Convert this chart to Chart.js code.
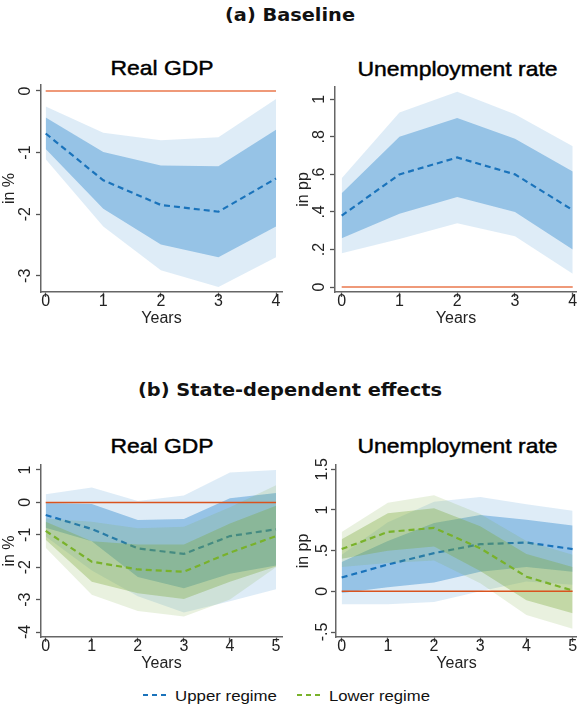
<!DOCTYPE html>
<html><head><meta charset="utf-8">
<script src="https://cdn.jsdelivr.net/npm/chart.js@4"></script>
<style>
body{margin:0;width:577px;height:712px;background:#fff;position:relative;overflow:hidden;font-family:"Liberation Sans",Arial,sans-serif;}
canvas{position:absolute;}
svg{position:absolute;left:0;top:0;}
</style></head><body>
<svg width="577" height="712">
  <text x="290" y="21" text-anchor="middle" font-family="DejaVu Sans" font-weight="bold" font-size="17.5" textLength="130" lengthAdjust="spacingAndGlyphs" fill="#111">(a) Baseline</text>
  <text x="290" y="396" text-anchor="middle" font-family="DejaVu Sans" font-weight="bold" font-size="17.5" textLength="304" lengthAdjust="spacingAndGlyphs" fill="#111">(b) State-dependent effects</text>
  <g font-family="Liberation Sans" font-size="21" fill="#000" stroke="#000" stroke-width="0.45" text-anchor="middle" lengthAdjust="spacingAndGlyphs">
    <text x="162" y="75" textLength="103" lengthAdjust="spacingAndGlyphs">Real GDP</text>
    <text x="457.5" y="76" textLength="200" lengthAdjust="spacingAndGlyphs">Unemployment rate</text>
    <text x="162" y="453" textLength="103" lengthAdjust="spacingAndGlyphs">Real GDP</text>
    <text x="457.5" y="453" textLength="200" lengthAdjust="spacingAndGlyphs">Unemployment rate</text>
  </g>
  <line x1="143" y1="695" x2="168" y2="695" stroke="#1a73bb" stroke-width="2" stroke-dasharray="5,4"/>
  <text x="175" y="701" font-family="Liberation Sans" font-size="14" textLength="102" lengthAdjust="spacingAndGlyphs" fill="#111">Upper regime</text>
  <line x1="297" y1="695" x2="322" y2="695" stroke="#79b22b" stroke-width="2" stroke-dasharray="5,4"/>
  <text x="329" y="701" font-family="Liberation Sans" font-size="14" textLength="101" lengthAdjust="spacingAndGlyphs" fill="#111">Lower regime</text>
</svg>
<canvas id="tl" width="290" height="262" style="left:0;top:70px;width:290px;height:262px"></canvas>
<canvas id="tr" width="287" height="260" style="left:290px;top:72px;width:287px;height:260px"></canvas>
<canvas id="bl" width="290" height="227" style="left:0;top:450px;width:290px;height:227px"></canvas>
<canvas id="br" width="287" height="227" style="left:290px;top:450px;width:287px;height:227px"></canvas>
<script>
// ---------- data ----------
const yearsA = [0, 1, 2, 3, 4];
const yearsB = [0, 1, 2, 3, 4, 5];

// (a) Baseline - Real GDP (in %)
const gdpA_mean   = [-0.69, -1.45, -1.85, -1.96, -1.42];
const gdpA_in_hi  = [-0.43, -0.99, -1.21, -1.22, -0.63];
const gdpA_in_lo  = [-0.94, -1.91, -2.49, -2.70, -2.20];
const gdpA_out_hi = [-0.25, -0.68, -0.80, -0.75, -0.13];
const gdpA_out_lo = [-1.11, -2.20, -2.91, -3.18, -2.70];

// (a) Baseline - Unemployment rate (in pp)
const unA_mean   = [0.38, 0.60, 0.69, 0.60, 0.41];
const unA_in_hi  = [0.50, 0.80, 0.90, 0.79, 0.615];
const unA_in_lo  = [0.26, 0.39, 0.48, 0.40, 0.20];
const unA_out_hi = [0.58, 0.93, 1.04, 0.92, 0.75];
const unA_out_lo = [0.18, 0.256, 0.34, 0.27, 0.07];

// (b) State-dependent - Real GDP, upper regime
const gdpU_mean   = [-0.39, -0.82, -1.42, -1.59, -1.04, -0.83];
const gdpU_in_hi  = [-0.02, -0.05, -0.54, -0.51, 0.13, 0.29];
const gdpU_in_lo  = [-0.78, -1.20, -2.30, -2.65, -2.20, -1.95];
const gdpU_out_hi = [0.25, 0.46, 0.04, 0.21, 0.92, 1.00];
const gdpU_out_lo = [-1.05, -2.10, -2.90, -3.40, -3.05, -2.68];
// (b) Real GDP, lower regime
const gdpL_mean   = [-0.88, -1.83, -2.07, -2.14, -1.55, -1.04];
const gdpL_in_hi  = [-0.60, -1.20, -1.30, -1.30, -0.65, -0.10];
const gdpL_in_lo  = [-1.15, -2.45, -2.80, -2.98, -2.45, -1.98];
const gdpL_out_hi = [-0.50, -0.60, -0.80, -0.75, -0.15, 0.53];
const gdpL_out_lo = [-1.40, -2.85, -3.35, -3.52, -3.00, -2.00];

// (b) Unemployment rate, upper regime
const unU_mean   = [0.17, 0.33, 0.47, 0.58, 0.60, 0.52];
const unU_in_hi  = [0.36, 0.62, 0.84, 0.94, 0.88, 0.81];
const unU_in_lo  = [-0.02, 0.05, 0.11, 0.24, 0.30, 0.24];
const unU_out_hi = [0.45, 0.85, 1.10, 1.16, 1.07, 0.99];
const unU_out_lo = [-0.16, -0.16, -0.13, 0.00, 0.12, 0.08];
// (b) Unemployment rate, lower regime
const unL_mean   = [0.52, 0.73, 0.78, 0.53, 0.18, 0.01];
const unL_in_hi  = [0.64, 0.96, 1.02, 0.80, 0.46, 0.30];
const unL_in_lo  = [0.40, 0.50, 0.55, 0.25, -0.11, -0.27];
const unL_out_hi = [0.73, 1.09, 1.18, 0.95, 0.62, 0.45];
const unL_out_lo = [0.30, 0.35, 0.38, 0.10, -0.29, -0.46];

// tick values
const ticksGdpA = [-3, -2, -1, 0];
const ticksUnA  = [0, 0.2, 0.4, 0.6, 0.8, 1];
const ticksGdpB = [-4, -3, -2, -1, 0, 1];
const ticksUnB  = [-0.5, 0, 0.5, 1, 1.5];

// ---------- styling helpers ----------
Chart.defaults.font.family = "'Liberation Sans', Arial, sans-serif";
const BLUE_OUT = 'rgba(66,146,210,0.175)';
const BLUE_IN  = 'rgba(66,146,210,0.46)';
const GREEN_OUT = 'rgba(122,170,60,0.165)';
const GREEN_IN  = 'rgba(122,170,60,0.35)';
const BLUE_LINE = '#1a73bb';
const GREEN_LINE = '#79b22b';

const fmt = v => {
  const s = String(Math.round(v * 100) / 100);
  return s.replace(/^0\./, '.').replace(/^-0\./, '-.');
};
const pts = (xs, ys) => xs.map((x, i) => ({x: x, y: ys[i]}));
function band(xs, hi, lo, color, order) {
  return [
    {data: pts(xs, hi), fill: '+1', backgroundColor: color, borderColor: 'transparent', borderWidth: 0, pointRadius: 0, order: order},
    {data: pts(xs, lo), fill: false, borderColor: 'transparent', borderWidth: 0, pointRadius: 0, order: order}
  ];
}
function meanLine(xs, ys, color, order) {
  return {data: pts(xs, ys), borderColor: color, borderWidth: 2.2, borderDash: [6, 4], pointRadius: 0, fill: false, order: order};
}
function zeroLine(xs, color, order) {
  return {data: pts([xs[0], xs[xs.length - 1]], [0, 0]), borderColor: color, borderWidth: 1.5, pointRadius: 0, fill: false, order: order};
}

function panel(id, o) {
  new Chart(document.getElementById(id), {
    type: 'line',
    data: {datasets: o.datasets},
    options: {
      responsive: false, animation: false, events: [],
      elements: {line: {tension: 0}},
      layout: {padding: {top: 15, right: o.padRight, left: 0, bottom: 0}},
      plugins: {legend: {display: false}, tooltip: {enabled: false}},
      scales: {
        x: {
          type: 'linear', min: o.xMin, max: o.xMax,
          afterBuildTicks: s => { s.ticks = o.xTicks.map(v => ({value: v})); },
          grid: {display: true, drawOnChartArea: false, drawTicks: true, tickLength: 5, tickColor: '#555', tickWidth: 1.3},
          border: {display: true, color: '#666', width: 1.5},
          ticks: {color: '#222', font: {size: 16}, padding: -5, maxRotation: 0, autoSkip: false, callback: v => fmt(v)},
          title: {display: true, text: 'Years', color: '#222', font: {size: 16}, padding: {top: 0, bottom: 4}},
          afterFit: s => { s.height = 40; }
        },
        y: {
          type: 'linear', min: o.yMin, max: o.yMax,
          afterBuildTicks: s => { s.ticks = o.yTicks.map(v => ({value: v})); },
          grid: {display: true, drawOnChartArea: false, drawTicks: true, tickLength: 5, tickColor: '#555', tickWidth: 1.3},
          border: {display: true, color: '#666', width: 1.5},
          ticks: {color: '#222', font: {size: 16}, minRotation: 90, maxRotation: 90, crossAlign: 'center', padding: o.yPad, autoSkip: false, callback: v => fmt(v)},
          title: {display: true, text: o.yTitle, color: '#222', font: {size: 16}, padding: {top: o.titlePad, bottom: 0}},
          afterFit: s => { s.width = o.yW; }
        }
      }
    }
  });
}

panel('tl', {
  xMin: -0.0816, xMax: 4.104, xTicks: yearsA,
  yMin: -3.263, yMax: 0.097, yTicks: ticksGdpA,
  yTitle: 'in %', yW: 41, yPad: 3, titlePad: 0, padRight: 8,
  datasets: [
    ...band(yearsA, gdpA_out_hi, gdpA_out_lo, BLUE_OUT, 4),
    ...band(yearsA, gdpA_in_hi, gdpA_in_lo, BLUE_IN, 3),
    meanLine(yearsA, gdpA_mean, BLUE_LINE, 2),
    zeroLine(yearsA, '#ea774d', 1)
  ]
});
panel('tr', {
  xMin: -0.116, xMax: 4.074, xTicks: yearsA,
  yMin: -0.0266, yMax: 1.0655, yTicks: ticksUnA,
  yTitle: 'in pp', yW: 45, yPad: 3.3, titlePad: 4.4, padRight: 0,
  datasets: [
    ...band(yearsA, unA_out_hi, unA_out_lo, BLUE_OUT, 4),
    ...band(yearsA, unA_in_hi, unA_in_lo, BLUE_IN, 3),
    meanLine(yearsA, unA_mean, BLUE_LINE, 2),
    zeroLine(yearsA, '#ea774d', 1)
  ]
});
panel('bl', {
  xMin: -0.102, xMax: 5.13, xTicks: yearsB,
  yMin: -4.154, yMax: 1.154, yTicks: ticksGdpB,
  yTitle: 'in %', yW: 41, yPad: 3, titlePad: 0, padRight: 8,
  datasets: [
    ...band(yearsB, gdpU_out_hi, gdpU_out_lo, BLUE_OUT, 7),
    ...band(yearsB, gdpU_in_hi, gdpU_in_lo, BLUE_IN, 6),
    meanLine(yearsB, gdpU_mean, BLUE_LINE, 5),
    ...band(yearsB, gdpL_out_hi, gdpL_out_lo, GREEN_OUT, 4),
    ...band(yearsB, gdpL_in_hi, gdpL_in_lo, GREEN_IN, 3),
    meanLine(yearsB, gdpL_mean, GREEN_LINE, 2),
    zeroLine(yearsB, '#d9531e', 1)
  ]
});
panel('br', {
  xMin: -0.123, xMax: 5.095, xTicks: yearsB,
  yMin: -0.561, yMax: 1.553, yTicks: ticksUnB,
  yTitle: 'in pp', yW: 46, yPad: -2.9, titlePad: 4.4, padRight: 0,
  datasets: [
    ...band(yearsB, unU_out_hi, unU_out_lo, BLUE_OUT, 7),
    ...band(yearsB, unU_in_hi, unU_in_lo, BLUE_IN, 6),
    meanLine(yearsB, unU_mean, BLUE_LINE, 5),
    ...band(yearsB, unL_out_hi, unL_out_lo, GREEN_OUT, 4),
    ...band(yearsB, unL_in_hi, unL_in_lo, GREEN_IN, 3),
    meanLine(yearsB, unL_mean, GREEN_LINE, 2),
    zeroLine(yearsB, '#d9531e', 1)
  ]
});
</script>
</body></html>
